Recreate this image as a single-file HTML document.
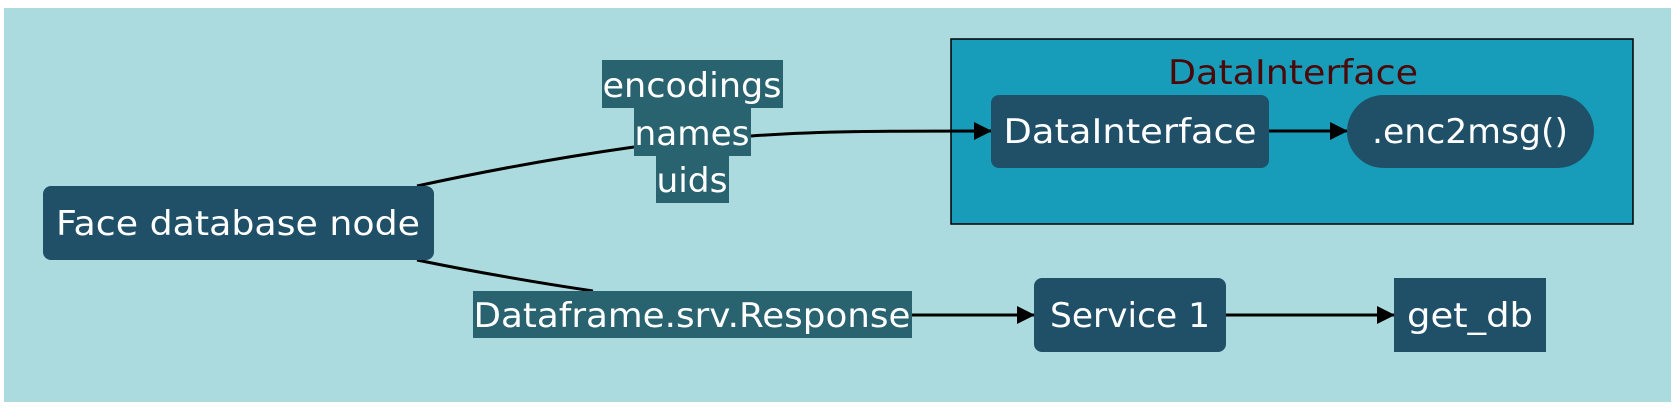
<!DOCTYPE html>
<html><head><meta charset="utf-8"><style>
html,body{margin:0;padding:0;background:#fff;width:1677px;height:408px;overflow:hidden}
text{font-family:"DejaVu Sans","Liberation Sans",sans-serif;font-size:34px;fill:#fff}
</style></head><body>
<svg width="1677" height="408" viewBox="0 0 1677 408" xmlns="http://www.w3.org/2000/svg">
<defs>
<marker id="b" markerWidth="18" markerHeight="18" refX="17" refY="9" orient="auto" markerUnits="userSpaceOnUse"><path d="M0,0 L18,9 L0,18 z" fill="#000"/></marker></defs>
<rect x="4" y="8" width="1667" height="394" fill="#acdbdf"/>
<rect x="951" y="39" width="682" height="185" fill="#179cb9" stroke="#000" stroke-width="1.5"/>
<text x="1293" y="84" text-anchor="middle" style="fill:#4a0808" textLength="250" lengthAdjust="spacingAndGlyphs">DataInterface</text>
<!-- edges -->
<path d="M417,186 C500,168 570,156 634,147" fill="none" stroke="#000" stroke-width="3"/>
<path d="M751,136 C820,131 880,131 991,131" fill="none" stroke="#000" stroke-width="3" marker-end="url(#b)"/>
<path d="M1269,131 L1347,131" fill="none" stroke="#000" stroke-width="3" marker-end="url(#b)"/>
<path d="M417,260 C480,273 540,283 593,291" fill="none" stroke="#000" stroke-width="3"/>
<path d="M912,315 L1034,315" fill="none" stroke="#000" stroke-width="3" marker-end="url(#b)"/>
<path d="M1226,315 L1394,315" fill="none" stroke="#000" stroke-width="3" marker-end="url(#b)"/>
<!-- nodes -->
<rect x="43" y="186" width="391" height="74" rx="8" fill="#1f5068"/>
<text x="238" y="235" text-anchor="middle" textLength="364" lengthAdjust="spacingAndGlyphs">Face database node</text>
<rect x="602" y="60" width="181" height="48" fill="#2a6370"/>
<rect x="634" y="108" width="117" height="48" fill="#2a6370"/>
<rect x="656" y="156" width="73" height="47" fill="#2a6370"/>
<text x="692" y="97" text-anchor="middle" textLength="179" lengthAdjust="spacingAndGlyphs">encodings</text>
<text x="692" y="145" text-anchor="middle" textLength="115" lengthAdjust="spacingAndGlyphs">names</text>
<text x="692" y="192" text-anchor="middle" textLength="71" lengthAdjust="spacingAndGlyphs">uids</text>
<rect x="473" y="291" width="439" height="47" fill="#2a6370"/>
<text x="692" y="327" text-anchor="middle" textLength="437" lengthAdjust="spacingAndGlyphs">Dataframe.srv.Response</text>
<rect x="991" y="95" width="278" height="73" rx="8" fill="#1f5068"/>
<text x="1130" y="143" text-anchor="middle" textLength="253" lengthAdjust="spacingAndGlyphs">DataInterface</text>
<rect x="1347" y="95" width="247" height="73" rx="36.5" fill="#1f5068"/>
<text x="1470" y="143" text-anchor="middle" textLength="196" lengthAdjust="spacingAndGlyphs">.enc2msg()</text>
<rect x="1034" y="278" width="192" height="74" rx="8" fill="#1f5068"/>
<text x="1130" y="327" text-anchor="middle" textLength="160" lengthAdjust="spacingAndGlyphs">Service 1</text>
<rect x="1394" y="278" width="152" height="74" fill="#1f5068"/>
<text x="1470" y="327" text-anchor="middle" textLength="126" lengthAdjust="spacingAndGlyphs">get_db</text>
</svg>
</body></html>
